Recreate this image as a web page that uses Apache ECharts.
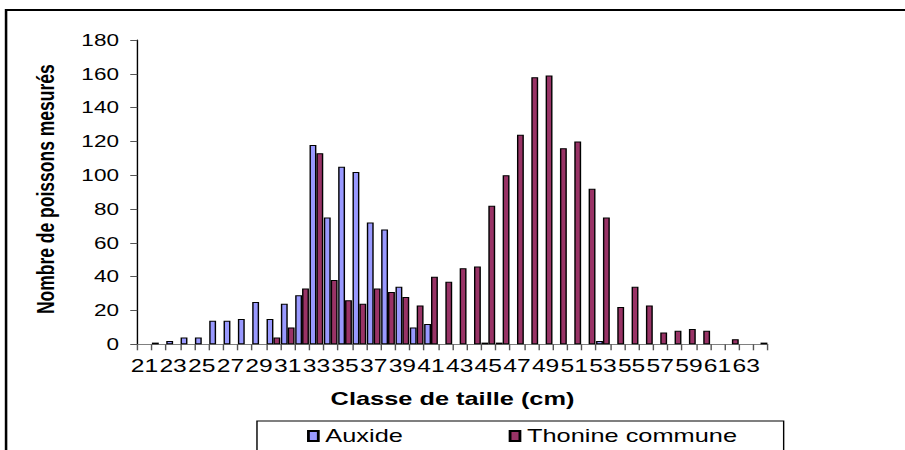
<!DOCTYPE html>
<html>
<head>
<meta charset="utf-8">
<script src="https://cdn.jsdelivr.net/npm/echarts@6/dist/echarts.min.js"></script>
<style>
  html, body { margin: 0; padding: 0; background: #fff; overflow: hidden; }
  #chart { width: 642px; height: 450px; transform: scaleX(1.40966); transform-origin: 0 0; }
</style>
</head>
<body>
<div id="chart"></div>
<script>
// Size classes (cm)
const categories = ['21','22','23','24','25','26','27','28','29','30','31','32','33','34','35','36','37','38','39','40','41','42','43','44','45','46','47','48','49','50','51','52','53','54','55','56','57','58','59','60','61','62','63','64'];
// Auxide counts
const auxide = [0,1,2,4,4,14,14,15,25,15,24,29,118,75,105,102,72,68,34,10,12,0,0,0,1,1,0,0,0,0,0,0,2,0,0,0,0,0,0,0,0,0,0,0];
// Thonine commune counts
const thonine = [0,0,0,0,0,0,0,0,0,4,10,33,113,38,26,24,33,31,28,23,40,37,45,46,82,100,124,158,159,116,120,92,75,22,34,23,7,8,9,8,0,3,0,1];
// Y axis ticks
const yMin = 0, yMax = 180, yStep = 20;

const FONT = "'Liberation Sans', Arial, sans-serif";
const chart = echarts.init(document.getElementById('chart'), null, { renderer: 'svg' });
const toData = arr => arr.map(v => (v === 0 ? '-' : v));

chart.setOption({
  animation: false,
  backgroundColor: '#ffffff',
  textStyle: { fontFamily: FONT },
  graphic: [{
    type: 'rect',
    shape: { x: 4.3, y: 10, width: 700, height: 520 },
    style: { fill: 'none', stroke: '#000', lineWidth: 1.8 },
    silent: true,
    z: -1
  }],
  grid: { left: 97.4, top: 40.1, width: 447.2, height: 304.2, containLabel: false },
  legend: {
    left: 182.3,
    top: 421,
    orient: 'horizontal',
    itemGap: 75,
    itemWidth: 7,
    itemHeight: 10,
    icon: 'rect',
    borderColor: '#000',
    borderWidth: 1,
    padding: [6, 33, 30, 35.5],
    textStyle: { fontSize: 18, color: '#000', fontFamily: FONT },
    data: ['Auxide', 'Thonine commune']
  },
  xAxis: {
    type: 'category',
    data: categories,
    boundaryGap: true,
    name: 'Classe de taille (cm)',
    nameLocation: 'middle',
    nameGap: 46,
    nameTextStyle: { fontSize: 18, fontWeight: 'bold', color: '#000', fontFamily: FONT },
    axisLine: { show: true, lineStyle: { color: '#808080', width: 1 } },
    axisTick: { show: true, interval: 0, length: 6, alignWithLabel: false, lineStyle: { color: '#555' } },
    axisLabel: { interval: 1, margin: 13, fontSize: 17.5, color: '#000', fontFamily: FONT },
    splitLine: { show: false }
  },
  yAxis: {
    type: 'value',
    min: yMin,
    max: yMax,
    interval: yStep,
    name: 'Nombre de poissons mesurés',
    nameLocation: 'middle',
    nameGap: 56,
    nameTextStyle: { fontSize: 17.5, fontWeight: 'bold', color: '#000', fontFamily: FONT, padding: [0, 0, 0, 6] },
    axisLine: { show: true, lineStyle: { color: '#000', width: 1 } },
    axisTick: { show: true, length: 5, lineStyle: { color: '#555' } },
    axisLabel: { margin: 13, fontSize: 16, color: '#000', fontFamily: FONT },
    splitLine: { show: false }
  },
  series: [
    {
      name: 'Auxide',
      type: 'bar',
      data: toData(auxide),
      barGap: '0%',
      barCategoryGap: '4%',
      itemStyle: { color: '#9999FF', borderColor: '#000', borderWidth: 1 }
    },
    {
      name: 'Thonine commune',
      type: 'bar',
      data: toData(thonine),
      barGap: '0%',
      barCategoryGap: '4%',
      itemStyle: { color: '#993366', borderColor: '#000', borderWidth: 1 }
    }
  ]
});
</script>
</body>
</html>
